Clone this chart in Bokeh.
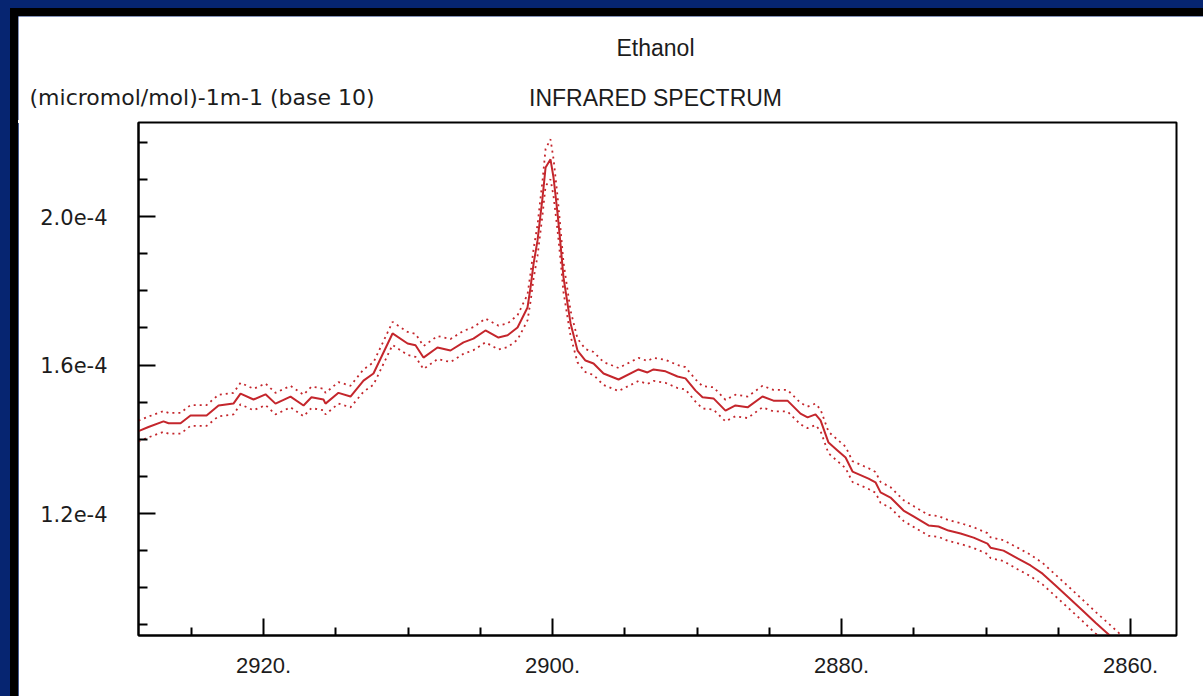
from bokeh.plotting import figure
from bokeh.models import Range1d, FixedTicker, Label, ColumnDataSource, CustomJSTickFormatter
from bokeh.layouts import column
from bokeh.embed import file_html
from bokeh.resources import INLINE

# ---- data (wavenumber in cm-1, absorbance in units of 1e-4 (micromol/mol)-1 m-1) ----
wavenumber = [
    2928.65, 2927.96, 2926.92, 2926.57, 2925.74, 2925.05, 2923.94, 2923.11, 2922.08, 2921.59,
    2920.69, 2919.86, 2919.17, 2918.13, 2917.23, 2916.68, 2915.85, 2915.71, 2914.81, 2913.98,
    2913.08, 2912.39, 2911.07, 2910.03, 2909.48, 2908.93, 2907.96, 2907.06, 2906.16, 2905.47,
    2904.64, 2903.74, 2903.11, 2902.42, 2901.73, 2901.52, 2901.31, 2901.04, 2900.69, 2900.48,
    2900.14, 2899.93, 2899.65, 2899.45, 2899.24, 2898.89, 2898.75, 2898.27, 2897.72, 2897.16,
    2896.47, 2895.43, 2894.05, 2893.43, 2893.01, 2892.18, 2891.35, 2890.80, 2890.10, 2889.62,
    2888.86, 2888.03, 2887.34, 2886.50, 2885.47, 2884.71, 2883.74, 2882.84, 2882.35, 2881.80,
    2881.45, 2880.90, 2880.28, 2879.72, 2879.24, 2878.13, 2877.65, 2877.30, 2876.61, 2875.71,
    2875.02, 2873.98, 2873.29, 2872.60, 2871.76, 2870.86, 2869.90, 2869.69, 2868.79, 2867.82,
    2866.92, 2866.09, 2865.19, 2864.29, 2863.32, 2862.42, 2861.59, 2860.69,
]
absorbance = [
    1.422, 1.433, 1.448, 1.443, 1.443, 1.464, 1.464, 1.491, 1.496, 1.523,
    1.507, 1.521, 1.496, 1.515, 1.491, 1.513, 1.507, 1.496, 1.525, 1.515,
    1.558, 1.577, 1.685, 1.658, 1.653, 1.620, 1.647, 1.639, 1.661, 1.671,
    1.693, 1.674, 1.680, 1.701, 1.755, 1.809, 1.873, 1.935, 2.051, 2.132,
    2.154, 2.105, 2.008, 1.927, 1.836, 1.747, 1.712, 1.639, 1.612, 1.604,
    1.577, 1.561, 1.588, 1.580, 1.588, 1.583, 1.569, 1.564, 1.531, 1.513,
    1.510, 1.477, 1.491, 1.486, 1.515, 1.504, 1.504, 1.469, 1.459, 1.467,
    1.451, 1.391, 1.370, 1.351, 1.313, 1.294, 1.284, 1.257, 1.243, 1.208,
    1.192, 1.168, 1.165, 1.154, 1.146, 1.135, 1.119, 1.108, 1.100, 1.079,
    1.060, 1.038, 1.006, 0.974, 0.939, 0.906, 0.877, 0.845,
]
uncertainty = [
    0.028, 0.028, 0.028, 0.028, 0.028, 0.028, 0.028, 0.029, 0.029, 0.029,
    0.029, 0.029, 0.029, 0.029, 0.029, 0.029, 0.029, 0.029, 0.029, 0.029,
    0.030, 0.030, 0.031, 0.031, 0.031, 0.031, 0.031, 0.031, 0.031, 0.031,
    0.032, 0.032, 0.032, 0.033, 0.035, 0.038, 0.040, 0.042, 0.046, 0.050,
    0.054, 0.050, 0.046, 0.042, 0.040, 0.036, 0.034, 0.032, 0.031, 0.031,
    0.031, 0.031, 0.031, 0.031, 0.031, 0.031, 0.031, 0.030, 0.030, 0.030,
    0.030, 0.029, 0.029, 0.029, 0.029, 0.029, 0.029, 0.029, 0.029, 0.029,
    0.029, 0.029, 0.029, 0.029, 0.028, 0.028, 0.028, 0.028, 0.028, 0.028,
    0.028, 0.028, 0.028, 0.028, 0.028, 0.028, 0.028, 0.028, 0.028, 0.029,
    0.029, 0.029, 0.029, 0.029, 0.029, 0.029, 0.029, 0.029,
]
SCALE = 1e-4

x_major_ticks = [2920, 2900, 2880, 2860]
x_minor_ticks = [2925, 2915, 2910, 2905, 2895, 2890, 2885, 2875, 2870, 2865]
y_major_ticks = [1.2e-4, 1.6e-4, 2.0e-4]
y_minor_ticks = [0.9e-4, 1.0e-4, 1.1e-4, 1.3e-4, 1.4e-4, 1.5e-4, 1.7e-4, 1.8e-4,
                 1.9e-4, 2.1e-4, 2.2e-4]

title_text = "Ethanol"
subtitle_text = "INFRARED SPECTRUM"
unit_text = "(micromol/mol)-1m-1 (base 10)"

FONT = "Liberation Sans"
WIDE_FONT = "DejaVu Sans"
TXT = "#1c1c1c"
RED = "#c4262c"
NAVY = "#062571"

# ---- header strip (titles), a figure whose frame is the whole canvas, pixel ranges ----
HW, HH = 1185, 104
head = figure(width=HW, height=HH, output_backend="svg", toolbar_location=None,
              x_range=Range1d(0, HW), y_range=Range1d(HH, 0),
              min_border=0, min_border_left=0, min_border_right=0,
              min_border_top=0, min_border_bottom=0,
              background_fill_color="white", border_fill_color="white")
head.frame_align = False
head.axis.visible = False
head.grid.visible = False
head.outline_line_color = None
head.margin = (16, 0, 0, 18)
head.styles = {"box-shadow": "-4px -4px 0 4px #000, 0 3px 0 0 #fff"}
for txt, x, y, align, font, size in [(title_text, 637, 31, "center", FONT, "23px"),
                                     (subtitle_text, 637, 81, "center", FONT, "23px"),
                                     (unit_text, 11, 81, "left", WIDE_FONT, "22px")]:
    head.add_layout(Label(x=x, y=y, text=txt, text_font=font, text_font_size=size,
                          text_color=TXT, text_align=align, text_baseline="middle"))

# ---- main plot ----
src = ColumnDataSource(dict(
    x=wavenumber,
    y=[v * SCALE for v in absorbance],
    hi=[(v + s) * SCALE for v, s in zip(absorbance, uncertainty)],
    lo=[(v - s) * SCALE for v, s in zip(absorbance, uncertainty)],
))

x0, x1 = 2928.65, 2856.82
y0, y1 = 0.8714e-4, 2.2532e-4

p = figure(width=1185, height=576, output_backend="svg", toolbar_location=None,
           x_range=Range1d(x0, x1), y_range=Range1d(y0, y1),
           min_border_left=120, min_border_right=27, min_border_top=2, min_border_bottom=61,
           background_fill_color="white", border_fill_color="white")
p.frame_align = False
p.margin = (0, 0, 0, 18)
p.styles = {"box-shadow": "-8px 0 0 0 #000"}

p.grid.visible = False
p.outline_line_color = "black"
p.outline_line_width = 2
p.outline_line_alpha = 1

p.line("x", "hi", source=src, line_color=RED, line_width=1.8, line_dash="2 4")
p.line("x", "lo", source=src, line_color=RED, line_width=1.8, line_dash="2 4")
p.line("x", "y", source=src, line_color=RED, line_width=2)

for ax in (p.xaxis[0], p.yaxis[0]):
    ax.axis_line_color = "black"
    ax.axis_line_width = 2
    ax.major_tick_line_color = "black"
    ax.major_tick_line_width = 2
    ax.minor_tick_line_color = "black"
    ax.minor_tick_line_width = 2
    ax.major_tick_out = 0
    ax.minor_tick_out = 0
    ax.major_label_text_color = TXT

xa = p.xaxis[0]
xa.ticker = FixedTicker(ticks=x_major_ticks, minor_ticks=x_minor_ticks)
xa.formatter = CustomJSTickFormatter(code="return tick.toFixed(0) + '.';")
xa.major_label_text_font = FONT
xa.major_label_text_font_size = "22px"
xa.major_tick_in = 17
xa.minor_tick_in = 8
xa.major_label_standoff = 22

ya = p.yaxis[0]
ya.ticker = FixedTicker(ticks=y_major_ticks, minor_ticks=y_minor_ticks)
ya.formatter = CustomJSTickFormatter(code="return tick.toExponential(1);")
ya.major_label_text_font = WIDE_FONT
ya.major_label_text_font_size = "21px"
ya.major_tick_in = 17
ya.minor_tick_in = 9
ya.major_label_standoff = 31

layout = column(head, p, width=1203, height=696,
                styles={"background-color": NAVY, "overflow": "hidden"})

open("out.html", "w").write(file_html(layout, INLINE))
